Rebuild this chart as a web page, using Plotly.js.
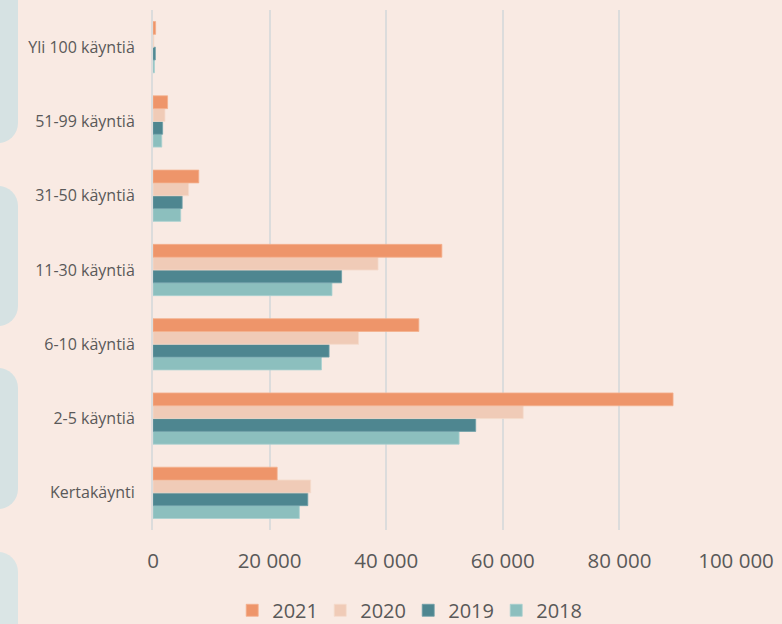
<!DOCTYPE html>
<html>
<head>
<meta charset="utf-8">
<script src="https://cdn.plot.ly/plotly-3.0.1.min.js"></script>
<style>
html,body{margin:0;padding:0;background:#F9EAE3;width:782px;height:624px;overflow:hidden;}
.deco{position:absolute;left:-40px;width:58px;background:#D6E2E3;border-radius:20px;}
#chart{position:absolute;left:0;top:0;width:782px;height:624px;}
</style>
</head>
<body>
<div class="deco" style="top:-40px;height:183px;"></div>
<div class="deco" style="top:186px;height:140px;"></div>
<div class="deco" style="top:368px;height:141px;"></div>
<div class="deco" style="top:552px;height:120px;background:#DAE5E5;"></div>
<div id="chart"></div>
<script>
const categories = ["Kertakäynti", "2-5 käyntiä", "6-10 käyntiä", "11-30 käyntiä", "31-50 käyntiä", "51-99 käyntiä", "Yli 100 käyntiä"];
const years = ["2018", "2019", "2020", "2021"];
const v2018 = [25100, 52500, 28900, 30700, 4750, 1500, 250];
const v2019 = [26550, 55350, 30200, 32350, 5000, 1650, 400];
const v2020 = [27050, 63500, 35250, 38600, 6100, 2050, 150];
const v2021 = [21300, 89200, 45600, 49550, 7850, 2500, 450];
const seriesValues = [v2018, v2019, v2020, v2021];
const colors = ["#8CBFBE", "#4E8690", "#F0CBB7", "#EE956A"];
const lineColors = ["#A9D1D0", "#6FA0A8", "#F5DACB", "#F4B08D"];
const xTicks = [0, 20000, 40000, 60000, 80000, 100000];
const xTickLabels = ["0", "20 000", "40 000", "60 000", "80 000", "100 000"];

const traces = years.map((y, i) => ({
  type: "bar",
  orientation: "h",
  name: y,
  y: categories,
  x: seriesValues[i],
  marker: {color: colors[i], line: {color: lineColors[i], width: 0.8}},
  hoverinfo: "x+y+name"
}));

const layout = {
  width: 782,
  height: 624,
  paper_bgcolor: "rgba(0,0,0,0)",
  plot_bgcolor: "rgba(0,0,0,0)",
  margin: {l: 153, r: 46, t: 10, b: 94, autoexpand: false},
  barmode: "group",
  bargap: 0.31,
  bargroupgap: 0,
  font: {family: "Open Sans, sans-serif", color: "#595959"},
  xaxis: {
    range: [0, 100000],
    tickvals: xTicks,
    ticktext: xTickLabels,
    showgrid: true,
    gridcolor: "#DCDCDC",
    gridwidth: 2,
    zeroline: false,
    showline: false,
    ticks: "",
    ticklabelstandoff: 16,
    tickfont: {size: 20.5, color: "#595959", family: "Open Sans, sans-serif"},
    automargin: false,
    fixedrange: true
  },
  yaxis: {
    type: "category",
    categoryorder: "array",
    categoryarray: categories,
    showgrid: false,
    showline: true,
    linecolor: "#DCDCDC",
    linewidth: 2,
    ticks: "",
    ticklabelstandoff: 13,
    tickfont: {size: 16, color: "#595959", family: "Open Sans, sans-serif"},
    automargin: false,
    fixedrange: true
  },
  legend: {
    orientation: "h",
    traceorder: "reversed",
    xref: "container",
    yref: "container",
    x: 0.522,
    xanchor: "center",
    y: 0.022,
    yanchor: "middle",
    itemwidth: 30,
    entrywidth: 43,
    entrywidthmode: "pixels",
    font: {size: 20, color: "#595959", family: "Open Sans, sans-serif"},
    bgcolor: "rgba(0,0,0,0)"
  },
  showlegend: true
};

Plotly.newPlot("chart", traces, layout, {displayModeBar: false, staticPlot: true});
</script>
</body>
</html>
